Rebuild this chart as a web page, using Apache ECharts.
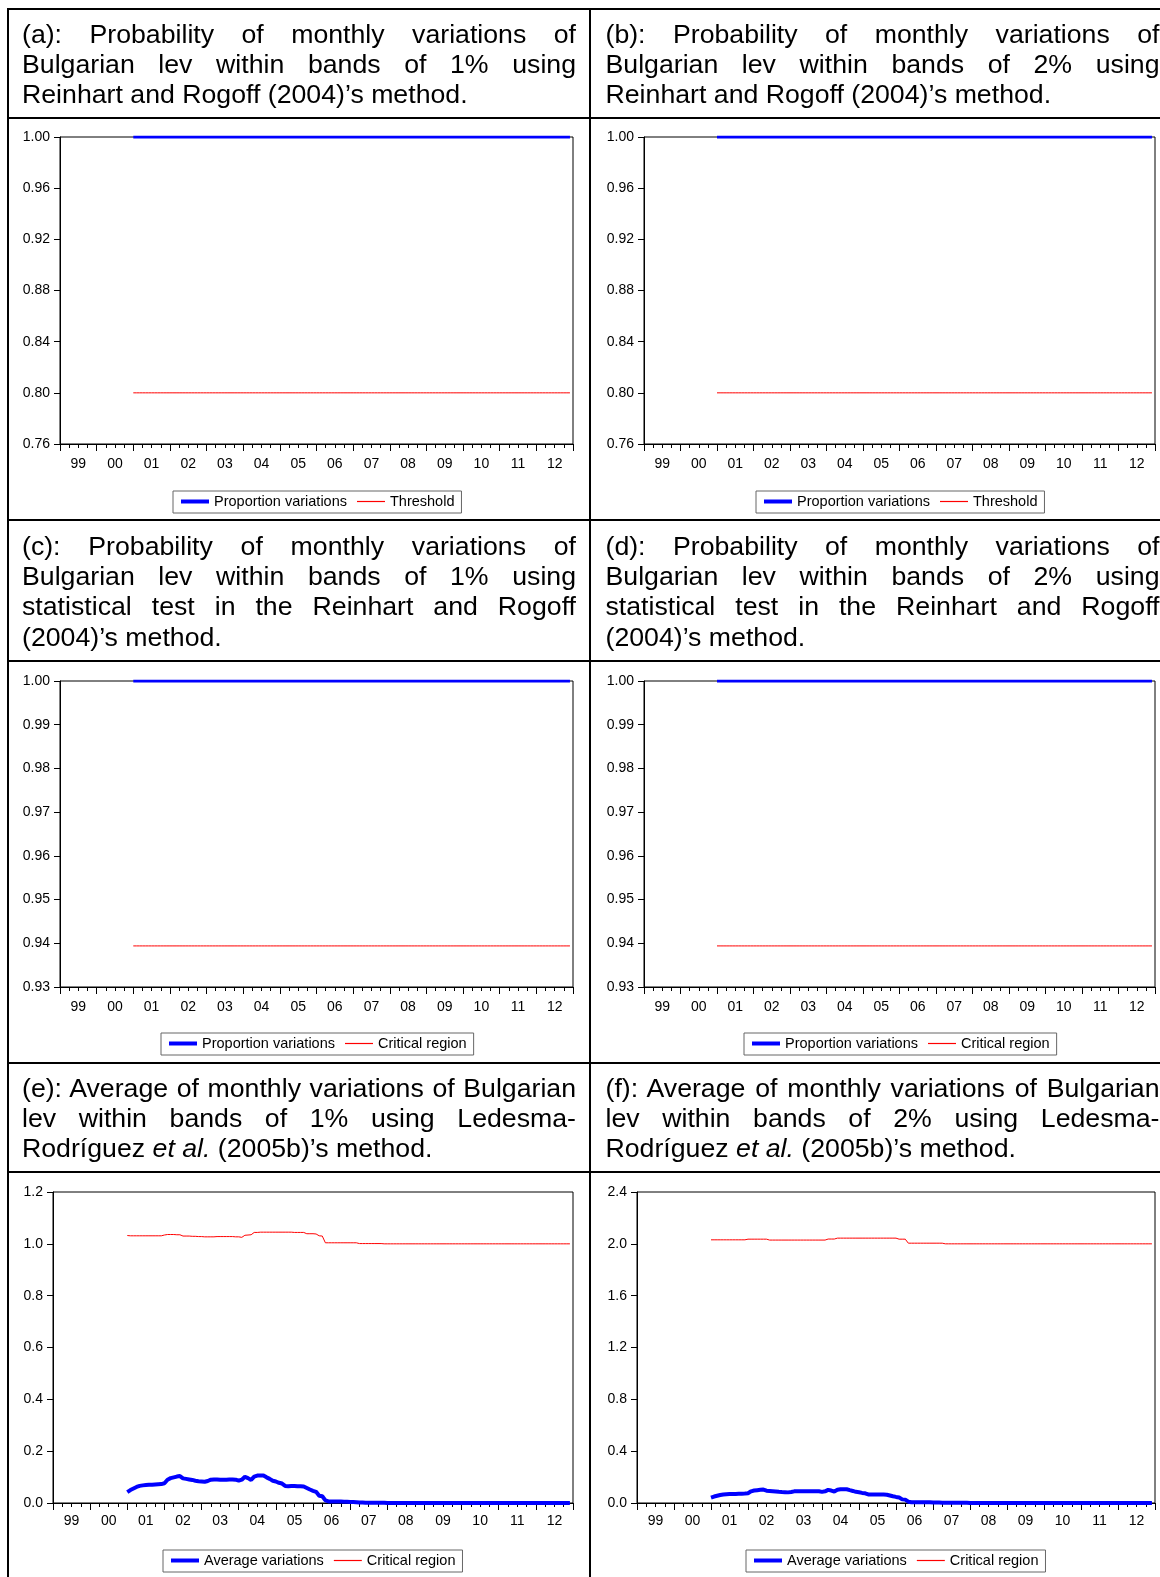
<!DOCTYPE html>
<html>
<head>
<meta charset="utf-8">
<script src="https://cdn.jsdelivr.net/npm/echarts@6/dist/echarts.min.js"></script>
<style>
  html, body { margin: 0; padding: 0; background: #fff; }
  body { width: 1160px; height: 1577px; position: relative; overflow: hidden;
         font-family: 'Liberation Sans', Arial, sans-serif; color: #000; }
  #chart { position: absolute; left: 0; top: 0; width: 1160px; height: 1577px; }
  .rule { position: absolute; background: #000; }
  .title { position: absolute; width: 554px; font-size: 26.7px; line-height: 30.2px; }
  .title .ln { text-align: justify; text-align-last: justify; }
  .title .ln.last { text-align: left; text-align-last: left; }
</style>
</head>
<body>
<div id="chart"></div>

<!-- table rules -->
<div class="rule" style="left:7px;top:8px;width:1153px;height:2px"></div>
<div class="rule" style="left:7px;top:117px;width:1153px;height:2px"></div>
<div class="rule" style="left:7px;top:519px;width:1153px;height:2px"></div>
<div class="rule" style="left:7px;top:660px;width:1153px;height:2px"></div>
<div class="rule" style="left:7px;top:1062px;width:1153px;height:2px"></div>
<div class="rule" style="left:7px;top:1171px;width:1153px;height:2px"></div>
<div class="rule" style="left:7px;top:8px;width:2px;height:1569px"></div>
<div class="rule" style="left:589px;top:8px;width:2px;height:1569px"></div>

<!-- panel captions -->
<div class="title" style="left:22px;top:19px">
  <div class="ln">(a): Probability of monthly variations of</div>
  <div class="ln">Bulgarian lev within bands of 1% using</div>
  <div class="ln last">Reinhart and Rogoff (2004)’s method.</div>
</div>
<div class="title" style="left:605.5px;top:19px">
  <div class="ln">(b): Probability of monthly variations of</div>
  <div class="ln">Bulgarian lev within bands of 2% using</div>
  <div class="ln last">Reinhart and Rogoff (2004)’s method.</div>
</div>
<div class="title" style="left:22px;top:531px">
  <div class="ln">(c): Probability of monthly variations of</div>
  <div class="ln">Bulgarian lev within bands of 1% using</div>
  <div class="ln">statistical test in the Reinhart and Rogoff</div>
  <div class="ln last">(2004)’s method.</div>
</div>
<div class="title" style="left:605.5px;top:531px">
  <div class="ln">(d): Probability of monthly variations of</div>
  <div class="ln">Bulgarian lev within bands of 2% using</div>
  <div class="ln">statistical test in the Reinhart and Rogoff</div>
  <div class="ln last">(2004)’s method.</div>
</div>
<div class="title" style="left:22px;top:1073px">
  <div class="ln">(e): Average of monthly variations of Bulgarian</div>
  <div class="ln">lev within bands of 1% using Ledesma-</div>
  <div class="ln last">Rodríguez <i>et al.</i> (2005b)’s method.</div>
</div>
<div class="title" style="left:605.5px;top:1073px">
  <div class="ln">(f): Average of monthly variations of Bulgarian</div>
  <div class="ln">lev within bands of 2% using Ledesma-</div>
  <div class="ln last">Rodríguez <i>et al.</i> (2005b)’s method.</div>
</div>

<script>
// ---- data -------------------------------------------------------------
// x axis: years 1999..2012, labels centred within each year
const yearLabels = ['99','00','01','02','03','04','05','06','07','08','09','10','11','12'];
const axisStart = [1999, 1];     // first month on the axis
const sampleStart = [2001, 1];   // first monthly observation (2001M01 .. 2012M12)

// (a) proportion of monthly variations within 1% bands, Reinhart-Rogoff
const propVar1 = [
  1,1,1,1,1,1,1,1,1,1,1,1,  1,1,1,1,1,1,1,1,1,1,1,1,
  1,1,1,1,1,1,1,1,1,1,1,1,  1,1,1,1,1,1,1,1,1,1,1,1,
  1,1,1,1,1,1,1,1,1,1,1,1,  1,1,1,1,1,1,1,1,1,1,1,1,
  1,1,1,1,1,1,1,1,1,1,1,1,  1,1,1,1,1,1,1,1,1,1,1,1,
  1,1,1,1,1,1,1,1,1,1,1,1,  1,1,1,1,1,1,1,1,1,1,1,1,
  1,1,1,1,1,1,1,1,1,1,1,1,  1,1,1,1,1,1,1,1,1,1,1,1
];
// (b) same within 2% bands
const propVar2 = [
  1,1,1,1,1,1,1,1,1,1,1,1,  1,1,1,1,1,1,1,1,1,1,1,1,
  1,1,1,1,1,1,1,1,1,1,1,1,  1,1,1,1,1,1,1,1,1,1,1,1,
  1,1,1,1,1,1,1,1,1,1,1,1,  1,1,1,1,1,1,1,1,1,1,1,1,
  1,1,1,1,1,1,1,1,1,1,1,1,  1,1,1,1,1,1,1,1,1,1,1,1,
  1,1,1,1,1,1,1,1,1,1,1,1,  1,1,1,1,1,1,1,1,1,1,1,1,
  1,1,1,1,1,1,1,1,1,1,1,1,  1,1,1,1,1,1,1,1,1,1,1,1
];
// Reinhart-Rogoff threshold (80%)
const threshold = [
  0.8,0.8,0.8,0.8,0.8,0.8,0.8,0.8,0.8,0.8,0.8,0.8,  0.8,0.8,0.8,0.8,0.8,0.8,0.8,0.8,0.8,0.8,0.8,0.8,
  0.8,0.8,0.8,0.8,0.8,0.8,0.8,0.8,0.8,0.8,0.8,0.8,  0.8,0.8,0.8,0.8,0.8,0.8,0.8,0.8,0.8,0.8,0.8,0.8,
  0.8,0.8,0.8,0.8,0.8,0.8,0.8,0.8,0.8,0.8,0.8,0.8,  0.8,0.8,0.8,0.8,0.8,0.8,0.8,0.8,0.8,0.8,0.8,0.8,
  0.8,0.8,0.8,0.8,0.8,0.8,0.8,0.8,0.8,0.8,0.8,0.8,  0.8,0.8,0.8,0.8,0.8,0.8,0.8,0.8,0.8,0.8,0.8,0.8,
  0.8,0.8,0.8,0.8,0.8,0.8,0.8,0.8,0.8,0.8,0.8,0.8,  0.8,0.8,0.8,0.8,0.8,0.8,0.8,0.8,0.8,0.8,0.8,0.8,
  0.8,0.8,0.8,0.8,0.8,0.8,0.8,0.8,0.8,0.8,0.8,0.8,  0.8,0.8,0.8,0.8,0.8,0.8,0.8,0.8,0.8,0.8,0.8,0.8
];
// (c), (d) proportions under the statistical test
const propTest1 = propVar1.slice();
const propTest2 = propVar2.slice();
// critical region of the test
const criticalProp = [
  0.9394,0.9394,0.9394,0.9394,0.9394,0.9394,0.9394,0.9394,0.9394,0.9394,0.9394,0.9394,
  0.9394,0.9394,0.9394,0.9394,0.9394,0.9394,0.9394,0.9394,0.9394,0.9394,0.9394,0.9394,
  0.9394,0.9394,0.9394,0.9394,0.9394,0.9394,0.9394,0.9394,0.9394,0.9394,0.9394,0.9394,
  0.9394,0.9394,0.9394,0.9394,0.9394,0.9394,0.9394,0.9394,0.9394,0.9394,0.9394,0.9394,
  0.9394,0.9394,0.9394,0.9394,0.9394,0.9394,0.9394,0.9394,0.9394,0.9394,0.9394,0.9394,
  0.9394,0.9394,0.9394,0.9394,0.9394,0.9394,0.9394,0.9394,0.9394,0.9394,0.9394,0.9394,
  0.9394,0.9394,0.9394,0.9394,0.9394,0.9394,0.9394,0.9394,0.9394,0.9394,0.9394,0.9394,
  0.9394,0.9394,0.9394,0.9394,0.9394,0.9394,0.9394,0.9394,0.9394,0.9394,0.9394,0.9394,
  0.9394,0.9394,0.9394,0.9394,0.9394,0.9394,0.9394,0.9394,0.9394,0.9394,0.9394,0.9394,
  0.9394,0.9394,0.9394,0.9394,0.9394,0.9394,0.9394,0.9394,0.9394,0.9394,0.9394,0.9394,
  0.9394,0.9394,0.9394,0.9394,0.9394,0.9394,0.9394,0.9394,0.9394,0.9394,0.9394,0.9394,
  0.9394,0.9394,0.9394,0.9394,0.9394,0.9394,0.9394,0.9394,0.9394,0.9394,0.9394,0.9394
];
// (e) average monthly variations within 1% bands, Ledesma-Rodriguez et al.
const avgVar1 = [
  0.042,0.050,0.056,0.062,0.066,0.068,0.069,0.070,0.070,0.071,0.072,0.073,
  0.076,0.090,0.096,0.099,0.102,0.104,0.095,0.093,0.091,0.089,0.086,0.084,
  0.083,0.082,0.085,0.090,0.091,0.091,0.090,0.090,0.090,0.091,0.091,0.090,
  0.086,0.090,0.101,0.096,0.089,0.102,0.106,0.106,0.106,0.099,0.093,0.086,
  0.083,0.078,0.075,0.066,0.065,0.066,0.066,0.065,0.065,0.064,0.058,0.052,
  0.047,0.043,0.028,0.026,0.010,0.006,0.006,0.006,0.006,0.006,0.005,0.005,
  0.004,0.004,0.003,0.002,0.002,0.001,0.001,0.001,0.001,0.001,0.001,0.001,
  0,0,0,0,0,0,0,0,0,0,0,0,
  0,0,0,0,0,0,0,0,0,0,0,0,
  0,0,0,0,0,0,0,0,0,0,0,0,
  0,0,0,0,0,0,0,0,0,0,0,0,
  0,0,0,0,0,0,0,0,0,0,0,0
];
const critAvg1 = [
  1.032,1.031,1.031,1.031,1.031,1.031,1.031,1.031,1.031,1.031,1.031,1.031,
  1.034,1.036,1.036,1.036,1.035,1.035,1.030,1.030,1.030,1.029,1.029,1.028,
  1.028,1.027,1.027,1.027,1.027,1.028,1.028,1.028,1.028,1.028,1.028,1.027,
  1.027,1.025,1.033,1.034,1.035,1.044,1.044,1.045,1.045,1.045,1.045,1.045,
  1.045,1.045,1.045,1.045,1.045,1.045,1.044,1.044,1.044,1.044,1.039,1.039,
  1.039,1.038,1.031,1.030,1.004,1.004,1.004,1.004,1.004,1.004,1.004,1.004,
  1.004,1.004,1.004,1.001,1.001,1.001,1.001,1.001,1.001,1.001,1.001,1.000,
  1.000,1.000,1.000,1.000,1.000,1.000,1.000,1.000,1.000,1.000,1.000,1.000,
  1.000,1.000,1.000,1.000,1.000,1.000,1.000,1.000,1.000,1.000,1.000,1.000,
  1.000,1.000,1.000,1.000,1.000,1.000,1.000,1.000,1.000,1.000,1.000,1.000,
  1.000,1.000,1.000,1.000,1.000,1.000,1.000,1.000,1.000,1.000,1.000,1.000,
  1.000,1.000,1.000,1.000,1.000,1.000,1.000,1.000,1.000,1.000,1.000,1.000
];
// (f) same within 2% bands
const avgVar2 = [
  0.042,0.050,0.056,0.062,0.066,0.068,0.069,0.070,0.070,0.071,0.072,0.073,
  0.076,0.090,0.096,0.099,0.102,0.104,0.095,0.093,0.091,0.089,0.086,0.084,
  0.083,0.082,0.085,0.090,0.091,0.091,0.090,0.090,0.090,0.091,0.091,0.090,
  0.086,0.090,0.101,0.096,0.089,0.102,0.106,0.106,0.106,0.099,0.093,0.086,
  0.083,0.078,0.075,0.066,0.065,0.066,0.066,0.065,0.065,0.064,0.058,0.052,
  0.047,0.043,0.028,0.026,0.010,0.006,0.006,0.006,0.006,0.006,0.005,0.005,
  0.004,0.004,0.003,0.002,0.002,0.001,0.001,0.001,0.001,0.001,0.001,0.001,
  0,0,0,0,0,0,0,0,0,0,0,0,
  0,0,0,0,0,0,0,0,0,0,0,0,
  0,0,0,0,0,0,0,0,0,0,0,0,
  0,0,0,0,0,0,0,0,0,0,0,0,
  0,0,0,0,0,0,0,0,0,0,0,0
];
const critAvg2 = [
  2.031,2.031,2.031,2.031,2.031,2.031,2.031,2.031,2.031,2.031,2.031,2.031,
  2.036,2.036,2.036,2.036,2.036,2.036,2.036,2.029,2.029,2.029,2.029,2.029,
  2.029,2.029,2.029,2.029,2.029,2.029,2.029,2.029,2.029,2.029,2.029,2.029,
  2.029,2.029,2.037,2.037,2.037,2.044,2.044,2.044,2.044,2.044,2.044,2.044,
  2.044,2.044,2.044,2.044,2.044,2.044,2.044,2.044,2.044,2.044,2.044,2.044,
  2.044,2.036,2.036,2.036,2.005,2.005,2.005,2.005,2.005,2.005,2.005,2.005,
  2.005,2.005,2.005,2.005,2.000,2.000,2.000,2.000,2.000,2.000,2.000,2.000,
  2.000,2.000,2.000,2.000,2.000,2.000,2.000,2.000,2.000,2.000,2.000,2.000,
  2.000,2.000,2.000,2.000,2.000,2.000,2.000,2.000,2.000,2.000,2.000,2.000,
  2.000,2.000,2.000,2.000,2.000,2.000,2.000,2.000,2.000,2.000,2.000,2.000,
  2.000,2.000,2.000,2.000,2.000,2.000,2.000,2.000,2.000,2.000,2.000,2.000,
  2.000,2.000,2.000,2.000,2.000,2.000,2.000,2.000,2.000,2.000,2.000,2.000
];

// ---- layout -----------------------------------------------------------
const FONT = "'Liberation Sans', Arial, sans-serif";
const BLUE = '#0000ff';
const RED = '#ff0000';
const ICON_THICK = 'path://M0,0H28V4H0Z';
const ICON_THIN = 'path://M0,0H28V1.2H0Z';
const axisMonths = yearLabels.length * 12;
const firstIdx = (sampleStart[0] - axisStart[0]) * 12 + (sampleStart[1] - axisStart[1]);

function toPoints(values) {
  return values.map((v, i) => [firstIdx + i, v]);
}

const panels = [
  { rect: [60, 137, 513, 307], y: [0.76, 1.00, 0.04, 2], xMargin: 13,
    lines: [['Proportion variations', propVar1, BLUE, 3], ['Threshold', threshold, RED, 1]],
    legend: [173, 491] },
  { rect: [644, 137, 511, 307], y: [0.76, 1.00, 0.04, 2], xMargin: 13,
    lines: [['Proportion variations', propVar2, BLUE, 3], ['Threshold', threshold, RED, 1]],
    legend: [756, 491] },
  { rect: [60, 681, 513, 306], y: [0.93, 1.00, 0.01, 2], xMargin: 13,
    lines: [['Proportion variations', propTest1, BLUE, 3], ['Critical region', criticalProp, RED, 1]],
    legend: [161, 1033] },
  { rect: [644, 681, 511, 306], y: [0.93, 1.00, 0.01, 2], xMargin: 13,
    lines: [['Proportion variations', propTest2, BLUE, 3], ['Critical region', criticalProp, RED, 1]],
    legend: [744, 1033] },
  { rect: [53, 1192, 520, 311], y: [0, 1.2, 0.2, 1], xMargin: 11,
    lines: [['Average variations', avgVar1, BLUE, 4], ['Critical region', critAvg1, RED, 1]],
    legend: [163, 1550] },
  { rect: [637, 1192, 518, 311], y: [0, 2.4, 0.4, 1], xMargin: 11,
    lines: [['Average variations', avgVar2, BLUE, 4], ['Critical region', critAvg2, RED, 1]],
    legend: [746, 1550] }
];

const option = {
  animation: false,
  textStyle: { fontFamily: FONT, color: '#000' },
  grid: [], xAxis: [], yAxis: [], series: [], legend: []
};

panels.forEach((p, g) => {
  option.grid.push({
    left: p.rect[0], top: p.rect[1], width: p.rect[2], height: p.rect[3],
    show: true, borderColor: '#000', borderWidth: 1, backgroundColor: 'transparent',
    containLabel: false
  });
  const xBase = option.xAxis.length;
  // monthly value axis carrying the data, quarter ticks
  option.xAxis.push({
    type: 'value', gridIndex: g, position: 'bottom', min: 0, max: axisMonths, interval: 3,
    axisLine: { show: true, onZero: false, lineStyle: { color: '#000', width: 1 } },
    axisTick: { show: true, length: 4, lineStyle: { color: '#000', width: 1 } },
    axisLabel: { show: false }, splitLine: { show: false }
  });
  // year bands: long ticks at year boundaries, labels centred in the year
  option.xAxis.push({
    type: 'category', gridIndex: g, position: 'bottom', data: yearLabels, boundaryGap: true,
    axisLine: { show: false },
    axisTick: { show: true, length: 7, interval: 0, lineStyle: { color: '#000', width: 1 } },
    axisLabel: { show: true, interval: 0, margin: p.xMargin, fontSize: 14, color: '#000', fontFamily: FONT },
    splitLine: { show: false }
  });
  option.yAxis.push({
    type: 'value', gridIndex: g, position: 'left', min: p.y[0], max: p.y[1], interval: p.y[2],
    axisLine: { show: true, onZero: false, lineStyle: { color: '#000', width: 1 } },
    axisTick: { show: true, length: 6, lineStyle: { color: '#000', width: 1 } },
    axisLabel: { margin: 10, fontSize: 14, color: '#000', fontFamily: FONT,
                 formatter: v => Number(v).toFixed(p.y[3]) },
    splitLine: { show: false }
  });
  // red first so the thick blue line sits on top
  [p.lines[1], p.lines[0]].forEach(l => {
    option.series.push({
      name: l[0], type: 'line', xAxisIndex: xBase, yAxisIndex: g,
      data: toPoints(l[1]), symbol: 'none', showSymbol: false,
      lineStyle: { color: l[2], width: l[3] }, itemStyle: { color: l[2] },
      z: l[2] === BLUE ? 3 : 2
    });
  });
  option.legend.push({
    left: p.legend[0], top: p.legend[1], orient: 'horizontal',
    data: [
      { name: p.lines[0][0], icon: ICON_THICK,
        itemStyle: { color: BLUE, borderWidth: 0, borderColor: BLUE } },
      { name: p.lines[1][0], icon: ICON_THIN,
        itemStyle: { color: RED, borderWidth: 0, borderColor: RED } }
    ],
    itemWidth: 28, itemHeight: 13, itemGap: 10, padding: [3, 7, 4, 8],
    symbolKeepAspect: true,
    borderColor: '#666', borderWidth: 1, backgroundColor: '#fff',
    selectedMode: false,
    textStyle: { fontSize: 14.5, color: '#000', fontFamily: FONT }
  });
});

const chart = echarts.init(document.getElementById('chart'), null, { renderer: 'canvas' });
chart.setOption(option);
</script>
</body>
</html>
